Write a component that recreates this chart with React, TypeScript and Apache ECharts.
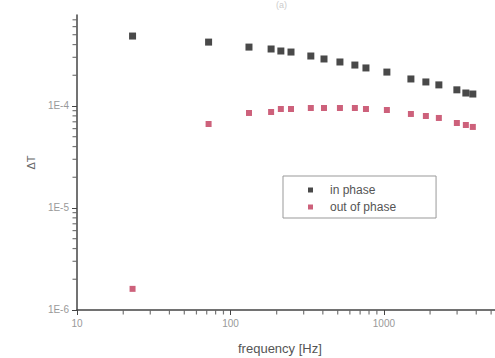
import React, { useEffect, useRef } from "react";
import * as echarts from "echarts";

const frequency = [23, 72, 132, 184, 213, 248, 334, 407, 517, 647, 764, 1046, 1500, 1878, 2282, 2990, 3422, 3800];
const inPhase = [4.85e-4, 4.23e-4, 3.78e-4, 3.62e-4, 3.46e-4, 3.38e-4, 3.09e-4, 2.89e-4, 2.7e-4, 2.52e-4, 2.36e-4, 2.15e-4, 1.84e-4, 1.72e-4, 1.61e-4, 1.44e-4, 1.34e-4, 1.31e-4];
const outOfPhase = [1.61e-6, 6.66e-5, 8.54e-5, 8.73e-5, 9.34e-5, 9.34e-5, 9.56e-5, 9.56e-5, 9.56e-5, 9.56e-5, 9.34e-5, 9.13e-5, 8.35e-5, 7.98e-5, 7.63e-5, 6.81e-5, 6.51e-5, 6.23e-5];

const xMajorTicks = [10, 100, 1000];
const xMinorTicks = [20, 30, 40, 50, 60, 70, 80, 90, 200, 300, 400, 500, 600, 700, 800, 900, 2000, 3000, 4000, 5000];
const yMajorTicks = [1e-6, 1e-5, 1e-4];
const yMinorTicks = [2e-6, 3e-6, 4e-6, 5e-6, 6e-6, 7e-6, 8e-6, 9e-6, 2e-5, 3e-5, 4e-5, 5e-5, 6e-5, 7e-5, 8e-5, 9e-5, 2e-4, 3e-4, 4e-4, 5e-4, 6e-4, 7e-4];

const X_MIN = 9.99;
const X_MAX = 5300;
const Y_MIN = 0.999e-6;
const Y_MAX = 7.8e-4;

export default function App() {
  const ref = useRef<HTMLDivElement>(null);

  useEffect(() => {
    if (!ref.current) return;
    const chart = echarts.init(ref.current, null, { renderer: "svg" });
    const axisColor = "#444";
    const labelColor = "#999";
    const font = "Liberation Sans, Arial, sans-serif";
    const option: any = {
      animation: false,
      backgroundColor: "#fff",
      textStyle: { fontFamily: font },
      grid: { left: 77, top: 15, right: 0, bottom: 48, show: false },
      legend: {
        orient: "vertical",
        left: 283,
        top: 176,
        width: 137,
        padding: [8, 40, 5, 25],
        borderColor: "#999",
        borderWidth: 1,
        itemWidth: 5,
        itemHeight: 5,
        itemGap: 5,
        textStyle: { color: "#555", fontSize: 12, fontFamily: font, padding: [0, 0, 0, 12] },
        data: [
          { name: "in phase", icon: "rect" },
          { name: "out of phase", icon: "rect" },
        ],
      },
      xAxis: {
        type: "log",
        min: X_MIN,
        max: X_MAX,
        position: "bottom",
        axisLine: { show: true, lineStyle: { color: axisColor, width: 1.5 } },
        axisTick: { show: true, length: 5, customValues: xMajorTicks, lineStyle: { color: axisColor } },
        axisLabel: {
          customValues: xMajorTicks,
          color: labelColor,
          fontSize: 10,
          margin: 8,
          formatter: (v: number) => String(Math.round(v)),
        },
        splitLine: { show: false },
      },
      yAxis: {
        type: "log",
        min: Y_MIN,
        max: Y_MAX,
        position: "left",
        name: "ΔT",
        nameLocation: "middle",
        nameGap: 40,
        nameTextStyle: { color: "#666", fontSize: 11, fontFamily: font },
        axisLine: { show: true, lineStyle: { color: axisColor, width: 1.5 } },
        axisTick: { show: true, length: 5, customValues: yMajorTicks, lineStyle: { color: axisColor } },
        axisLabel: {
          customValues: yMajorTicks,
          color: labelColor,
          fontSize: 10,
          margin: 8,
          formatter: (v: number) => "1E" + Math.round(Math.log10(v)),
        },
        splitLine: { show: false },
      },
      graphic: [
        {
          type: "text",
          left: 286 - 48,
          top: 342,
          style: { text: "frequency [Hz]", fill: "#555", fontSize: 13, fontFamily: font },
        },
        {
          type: "text",
          left: 276,
          top: 0,
          style: { text: "(a)", fill: "#ccc", fontSize: 9, fontFamily: font },
        },
      ],
      series: [
        {
          name: "x minor ticks",
          type: "scatter",
          symbol: "rect",
          symbolSize: [1.2, 4],
          symbolOffset: [0, 2.5],
          clip: false,
          silent: true,
          itemStyle: { color: "#555" },
          data: xMinorTicks.map((v) => [v, Y_MIN]),
          z: 1,
        },
        {
          name: "y minor ticks",
          type: "scatter",
          symbol: "rect",
          symbolSize: [4, 1.2],
          symbolOffset: [-2.5, 0],
          clip: false,
          silent: true,
          itemStyle: { color: "#555" },
          data: yMinorTicks.map((v) => [X_MIN, v]),
          z: 1,
        },
        {
          name: "in phase",
          type: "scatter",
          symbol: "rect",
          symbolSize: 7,
          itemStyle: { color: "#1c1c1c" },
          data: frequency.map((f, i) => [f, inPhase[i]]),
        },
        {
          name: "out of phase",
          type: "scatter",
          symbol: "rect",
          symbolSize: 6,
          itemStyle: { color: "#c0395a" },
          data: frequency.map((f, i) => [f, outOfPhase[i]]),
        },
      ],
    };
    chart.setOption(option);
    return () => chart.dispose();
  }, []);

  return (
    <div
      ref={ref}
      style={{ position: "fixed", left: 0, top: 0, width: 495, height: 358, background: "#fff" }}
    />
  );
}
